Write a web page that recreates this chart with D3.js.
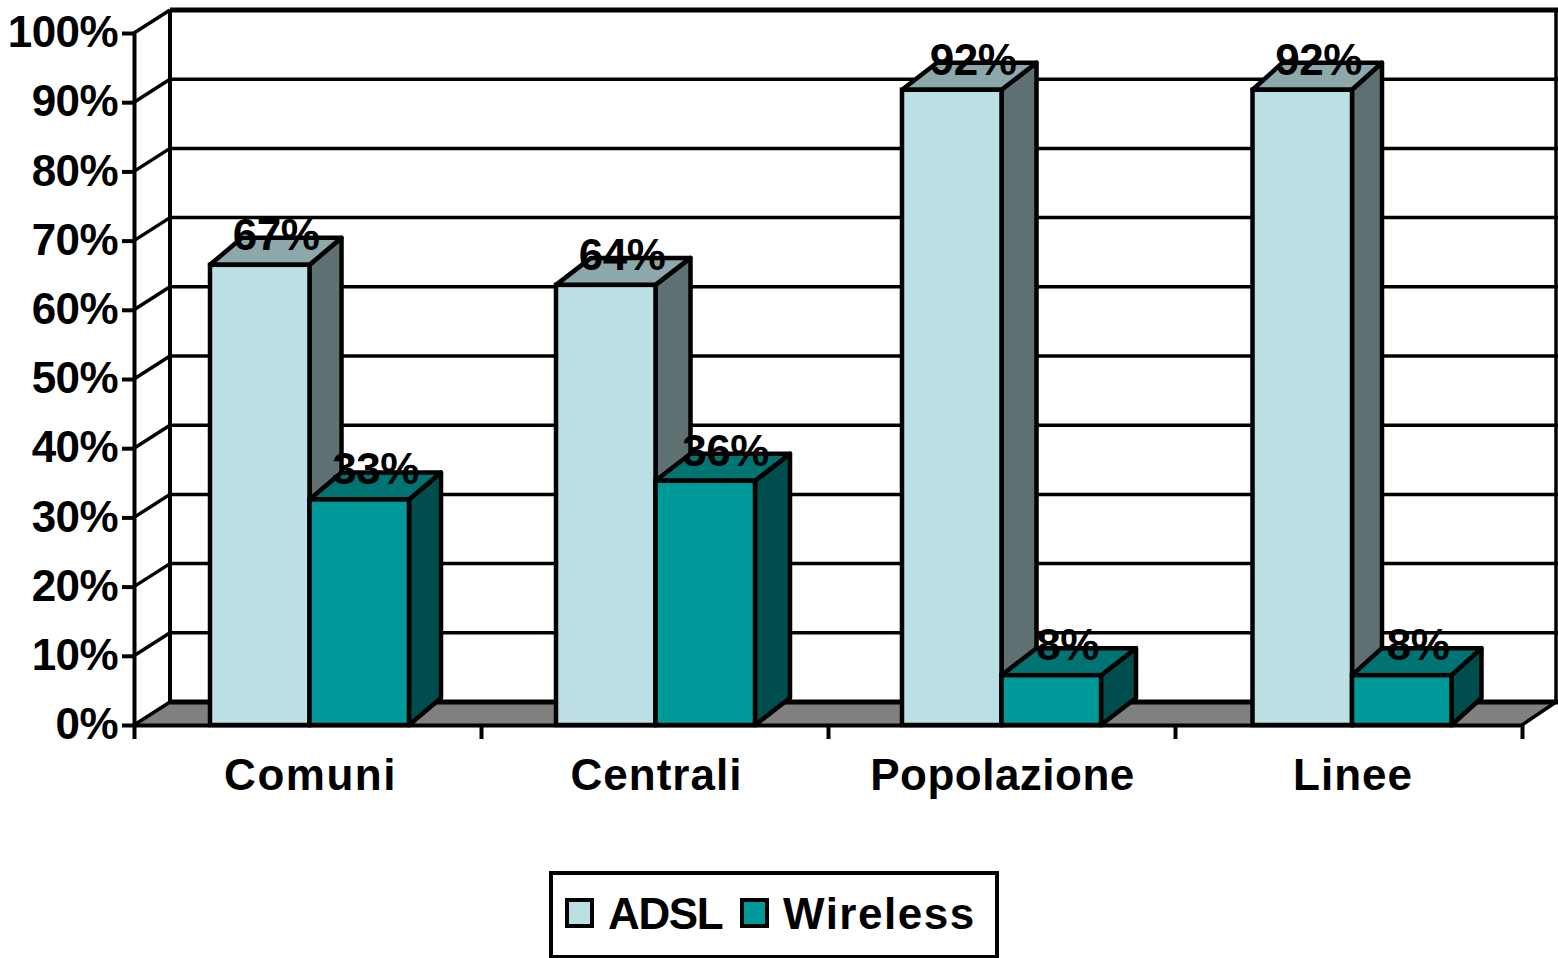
<!DOCTYPE html>
<html>
<head>
<meta charset="utf-8">
<script src="https://cdn.jsdelivr.net/npm/d3@7"></script>
<style>
html, body { margin: 0; padding: 0; background: #fff; overflow: hidden; }
text { font-family: "Liberation Sans", Arial, sans-serif; font-weight: bold; fill: #000; }
</style>
</head>
<body>
<svg id="chart" width="1558" height="958"></svg>
<script>
// values
var categories = ["Comuni", "Centrali", "Popolazione", "Linee"];
var adsl = [66.5, 63.6, 91.8, 91.8];
var wireless = [32.6, 35.3, 7.2, 7.2];
var adslLabels = ["67%", "64%", "92%", "92%"];
var wirelessLabels = ["33%", "36%", "8%", "8%"];
var yTicks = [0, 10, 20, 30, 40, 50, 60, 70, 80, 90, 100];
var legendNames = ["ADSL", "Wireless"];
var adslColors = ["#BBE0E3", "#8CA8AA", "#5E7072"];
var wirelessColors = ["#009999", "#007373", "#004D4D"];

var svg = d3.select("#chart");

var y = d3.scaleLinear().domain([0, 100]).range([725, 33]);
var x = d3.scaleBand().domain(categories).range([134, 1522]);
var xEdges = d3.scaleLinear().domain([0, 4]).range([134, 1522]);

// wall offset and bar depth
var wallX = 36, wallY = -23;
var barDepthY = -27;
var barW = 99.5, barOffset = 76;
var FONT = "44px";
// the original was pixel snapped, so each group is off by a little
var nudge = [0, -1, -2, 1.5];
var depthByGroup = [32, 35, 35, 30];
var labelSpacing = ["1.5px", "1px", "0.5px", "1px"];
var adslLabelShift = [0, 0, 5, 0];
var wirelessLabelShift = [0, 4, 0, 0];
var line = d3.line();

// floor
svg.append("path")
  .attr("d", line([[x.range()[0], y(0)], [x.range()[0] + wallX, y(0) + wallY], [1556, y(0) + wallY], [x.range()[1], y(0)]]) + "Z")
  .attr("fill", "#808080");

// wall gridlines and the diagonals on the side wall
yTicks.forEach(function(t) {
  svg.append("line").attr("x1", 134 + wallX).attr("x2", 1558)
    .attr("y1", y(t) + wallY).attr("y2", y(t) + wallY)
    .attr("stroke", "#000").attr("stroke-width", t == 100 || t == 0 ? 5 : 3.5);
  svg.append("line").attr("x1", 134).attr("x2", 134 + wallX)
    .attr("y1", y(t)).attr("y2", y(t) + wallY)
    .attr("stroke", "#000").attr("stroke-width", 3.5);
});
svg.append("line").attr("x1", 134 + wallX).attr("x2", 134 + wallX)
  .attr("y1", y(100) + wallY).attr("y2", y(0) + wallY)
  .attr("stroke", "#000").attr("stroke-width", 4);
svg.append("line").attr("x1", 1556).attr("x2", 1556)
  .attr("y1", y(100) + wallY).attr("y2", y(0) + wallY)
  .attr("stroke", "#000").attr("stroke-width", 3.5);
svg.append("line").attr("x1", x.range()[1]).attr("x2", 1556)
  .attr("y1", y(0)).attr("y2", y(0) + wallY)
  .attr("stroke", "#000").attr("stroke-width", 3.5);

// axes
var yAxis = svg.append("g").attr("transform", "translate(134,0)")
  .call(d3.axisLeft(y).tickValues(yTicks).tickFormat(function(d) { return d + "%"; }).tickSize(12).tickSizeOuter(0).tickPadding(4));
var xAxis = svg.append("g").attr("transform", "translate(0," + y(0) + ")")
  .call(d3.axisBottom(xEdges).ticks(4).tickFormat("").tickSize(14).tickSizeOuter(0));
svg.selectAll(".domain, .tick line").attr("stroke", "#000").attr("stroke-width", 4);
yAxis.selectAll("text").attr("dy", "0.31em").style("font-size", FONT).style("letter-spacing", "-0.6px");

function drawBar(left, value, colors, depth) {
  var top = y(value), bottom = y(0), right = left + barW;
  svg.append("path")
    .attr("d", line([[right, top], [right + depth, top + barDepthY], [right + depth, bottom + barDepthY], [right, bottom]]) + "Z")
    .attr("fill", colors[2]).attr("stroke", "#000").attr("stroke-width", 4.5).attr("stroke-linejoin", "round");
  svg.append("path")
    .attr("d", line([[left, top], [left + depth, top + barDepthY], [right + depth, top + barDepthY], [right, top]]) + "Z")
    .attr("fill", colors[1]).attr("stroke", "#000").attr("stroke-width", 4.5).attr("stroke-linejoin", "round");
  svg.append("rect").attr("x", left).attr("y", top).attr("width", barW).attr("height", bottom - top)
    .attr("fill", colors[0]).attr("stroke", "#000").attr("stroke-width", 4.5);
}

categories.forEach(function(c, i) {
  var left = x(c) + barOffset + nudge[i];
  drawBar(left, adsl[i], adslColors, depthByGroup[i]);
  drawBar(left + barW, wireless[i], wirelessColors, depthByGroup[i]);
});

// value labels sit over the top faces
categories.forEach(function(c, i) {
  var left = x(c) + barOffset + nudge[i];
  svg.append("text").attr("x", left + 66 + adslLabelShift[i]).attr("y", y(adsl[i]) - 15)
    .attr("text-anchor", "middle").style("font-size", FONT).style("letter-spacing", "-0.5px").text(adslLabels[i]);
  svg.append("text").attr("x", left + barW + 66 + wirelessLabelShift[i]).attr("y", y(wireless[i]) - 15)
    .attr("text-anchor", "middle").style("font-size", FONT).style("letter-spacing", "-0.5px").text(wirelessLabels[i]);
  svg.append("text").attr("x", left + barW + 1).attr("y", 790)
    .attr("text-anchor", "middle").style("font-size", FONT).style("letter-spacing", labelSpacing[i]).text(c);
});

// legend
svg.append("rect").attr("x", 551).attr("y", 873).attr("width", 446).attr("height", 84)
  .attr("fill", "#fff").attr("stroke", "#000").attr("stroke-width", 4);
svg.append("rect").attr("x", 567).attr("y", 900).attr("width", 25).attr("height", 26)
  .attr("fill", adslColors[0]).attr("stroke", "#000").attr("stroke-width", 4);
svg.append("rect").attr("x", 742).attr("y", 900).attr("width", 25).attr("height", 26)
  .attr("fill", wirelessColors[0]).attr("stroke", "#000").attr("stroke-width", 4);
svg.append("text").attr("x", 608).attr("y", 929).style("font-size", FONT).style("letter-spacing", "-1.4px").text(legendNames[0]);
svg.append("text").attr("x", 783).attr("y", 929).style("font-size", FONT).style("letter-spacing", "1.5px").text(legendNames[1]);
</script>
</body>
</html>
